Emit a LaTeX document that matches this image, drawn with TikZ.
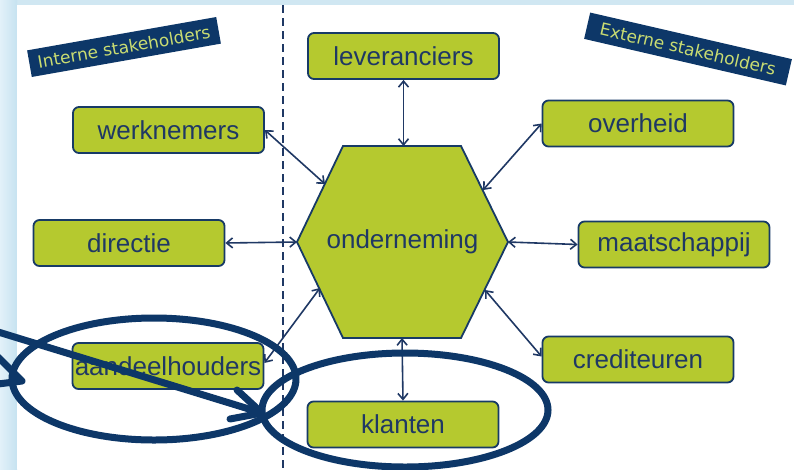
\documentclass[tikz,border=0pt]{standalone}
\usepackage{fontspec}
\setmainfont{Liberation Sans}
\newfontfamily\labelfont{DejaVu Sans}
\usetikzlibrary{arrows.meta}
\definecolor{navy}{HTML}{1F3864}
\definecolor{boxline}{HTML}{173A66}
\definecolor{lime}{HTML}{B5C92F}
\definecolor{annotblue}{HTML}{0D3768}
\definecolor{skyA}{HTML}{E2F1F9}
\definecolor{skyB}{HTML}{C6E2F0}
\definecolor{skyTop}{HTML}{D0E7F2}
\definecolor{labtext}{HTML}{C9DC72}
\begin{document}
\begin{tikzpicture}[x=1pt,y=-1pt,
  box/.style={draw=boxline, line width=1.8pt, fill=lime, rounded corners=6pt,
    minimum width=191pt, minimum height=46pt, inner sep=0pt,
    font=\fontsize{26}{30}\selectfont, text=navy},
  link/.style={navy, line width=1.6pt,
    {Straight Barb[length=6pt,width=10pt]}-{Straight Barb[length=6pt,width=10pt]}},
  tag/.style={fill=annotblue, text=labtext, inner sep=0pt,
    font=\labelfont\fontsize{17}{20}\selectfont, minimum width=192pt, minimum height=27pt},
  annot/.style={draw=annotblue, line width=7pt, line cap=round, line join=round}
]
\useasboundingbox (0,0) rectangle (794,469);
\clip (0,0) rectangle (794,469);
% background
\fill[skyTop] (0,0) rectangle (794,469);
\shade[left color=skyA, right color=skyB] (0,0) rectangle (17,469);
\fill[white] (17,5) rectangle (794,469);
% divider
\draw[navy, line width=2pt, dash pattern=on 8pt off 5pt] (283,5) -- (283,469);
% hexagon
\draw[draw=boxline, line width=1.8pt, fill=lime, line join=miter]
  (343,146) -- (461,146) -- (508,242) -- (461,338) -- (343,338) -- (297,242) -- cycle;
\node[font=\fontsize{26}{30}\selectfont, text=navy] (hex) at (402.5,242) {onderneming};
\coordinate (hT) at (403.5,146);
\coordinate (hB) at (402,338);
\coordinate (hL) at (297,242);
\coordinate (hR) at (508,242);
\coordinate (hUL) at (325,184);
\coordinate (hUR) at (483,190);
\coordinate (hLL) at (320,288);
\coordinate (hLR) at (485,290);
% stakeholder boxes
\node[box] (lev) at (403.5,56) {leveranciers};
\node[box] (wer) at (168.5,130) {werknemers};
\node[box] (ove) at (638,123.5) {overheid};
\node[box] (dir) at (129,243) {directie};
\node[box] (maa) at (674,244.5) {maatschappij};
\node[box] (aan) at (168,366) {aandeelhouders};
\node[box] (cre) at (638,359.5) {crediteuren};
\node[box] (kla) at (403,424.5) {klanten};
% connectors
\draw[link] (lev.south) -- (hT);
\draw[link] (wer.east) -- (hUL);
\draw[link] (ove.west) -- (hUR);
\draw[link] (maa.west) -- (hR);
\draw[link] (dir.east) -- (hL);
\draw[link] ([yshift=3pt]aan.east) -- (hLL);
\draw[link] ([yshift=3pt]cre.west) -- (hLR);
\draw[link] (hB) -- (kla.north);
% tags
\node[tag, rotate=10] (intern) at (124,47) {Interne stakeholders};
\node[tag, rotate=-13, minimum width=207pt] (extern) at (688,49) {Externe stakeholders};
% annotations
\draw[annot] (154,379) ellipse [x radius=142, y radius=61];
\draw[annot] (405,410) ellipse [x radius=143, y radius=57];
\coordinate (a1s) at (-5,331);
\coordinate (a1t) at (262,413);
\coordinate (a1b1) at (230,419);
\coordinate (a1b2) at (237,390);
\draw[annot] (a1s) -- (a1t);
\draw[annot] (a1b1) -- (a1t) -- (a1b2);
\coordinate (a2t) at (22,381);
\coordinate (a2b1) at (-2,357);
\coordinate (a2b2) at (-2,384);
\draw[annot] (a2b1) -- (a2t) -- (a2b2);
\end{tikzpicture}
\end{document}
